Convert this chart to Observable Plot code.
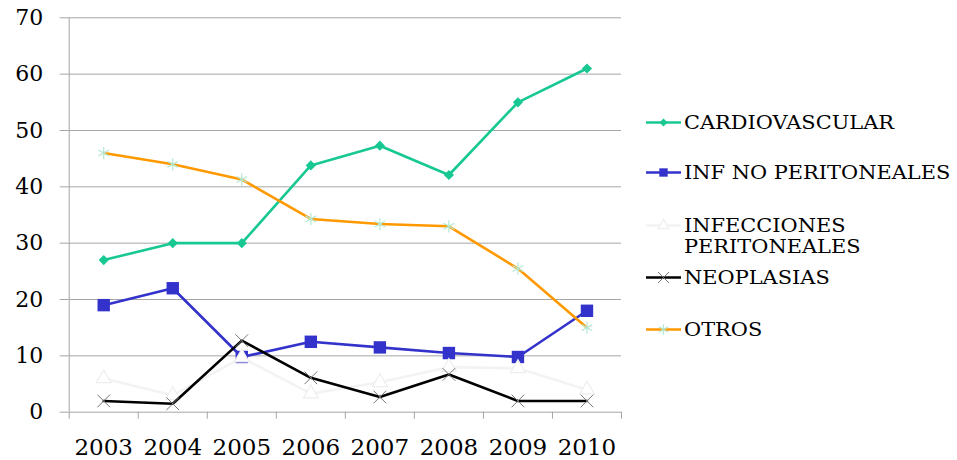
<!DOCTYPE html>
<html><head><meta charset="utf-8">
<script src="https://cdn.jsdelivr.net/npm/d3@7"></script>
<script src="https://cdn.jsdelivr.net/npm/@observablehq/plot@0.6"></script>
<style>
body{margin:0;background:#fff;}
#wrap{position:relative;width:957px;height:460px;font-family:"DejaVu Serif",serif;}
#wrap svg text{fill:#000;}
#legend{position:absolute;left:646px;top:0;}
.item{position:absolute;left:0;display:flex;align-items:flex-start;white-space:nowrap;}
.item svg{flex:none;}
.item span{font-size:19px;display:inline-block;line-height:21px;color:#000;margin-left:2px;transform:scaleX(1.1);transform-origin:0 50%;}
</style></head><body><div id="wrap"><div id="legend"></div></div>
<script>
const years = [2003, 2004, 2005, 2006, 2007, 2008, 2009, 2010];
const yTicks = [0, 10, 20, 30, 40, 50, 60, 70];
const cardiovascular = [27, 30, 30, 43.8, 47.3, 42.1, 55, 61];
const infNoPeritoneales = [19, 22, 9.8, 12.5, 11.5, 10.5, 9.8, 18];
const infeccionesPeritoneales = [6, 3, 9.7, 3.3, 5.3, 8, 7.8, 4];
const neoplasias = [2, 1.5, 12.7, 6.1, 2.7, 6.7, 2, 2];
const otros = [46, 44, 41.3, 34.3, 33.4, 33, 25.5, 15];
const seriesNames = ["CARDIOVASCULAR", "INF NO PERITONEALES", "INFECCIONES\nPERITONEALES", "NEOPLASIAS", "OTROS"];

const series = [
  {name: seriesNames[0], values: cardiovascular, line: "#18C893", symbol: "diamond2", r: 4.6, fill: "#18C893", stroke: "none", mstroke: 0, lsym: d3.symbolDiamond2, lsize: 40},
  {name: seriesNames[1], values: infNoPeritoneales, line: "#3333CC", symbol: "square", r: 7, fill: "#3333CC", stroke: "none", mstroke: 0, lsym: d3.symbolSquare, lsize: 70},
  {name: seriesNames[2], values: infeccionesPeritoneales, line: "#F3F3F3", symbol: "triangle", r: 5.5, fill: "#ffffff", stroke: "#EEEEEE", mstroke: 1.2, lsym: d3.symbolTriangle, lsize: 50},
  {name: seriesNames[3], values: neoplasias, line: "#000000", symbol: "times", r: 5.8, fill: "none", stroke: "#777777", mstroke: 1, lsym: d3.symbolTimes, lsize: 80},
  {name: seriesNames[4], values: otros, line: "#FF9900", symbol: "asterisk", r: 5.8, fill: "none", stroke: "#B2E8D2", mstroke: 1.2, lsym: d3.symbolAsterisk, lsize: 80}
];

const bounds = [...years.map(y => y - 0.5), years[years.length - 1] + 0.5];
const grey = "#A6A6A6";

const marks = [
  Plot.ruleY(yTicks, {stroke: grey, strokeWidth: 1}),
  Plot.ruleX([bounds[0]], {stroke: grey, strokeWidth: 1}),
  Plot.text(years, {x: d => d, y: 0, text: d => String(d), dy: 35, fontSize: 23, fill: "#000", fontFamily: "DejaVu Serif"})
];
for (const s of series) {
  marks.push(Plot.line(s.values, {x: years, y: s.values, stroke: s.line, strokeWidth: 2.6}));
  marks.push(Plot.dot(s.values, {x: years, y: s.values, symbol: () => s.symbol, r: s.r, fill: s.fill, stroke: s.stroke, strokeWidth: s.mstroke}));
}

const chart = Plot.plot({
  width: 957,
  height: 460,
  marginLeft: 68.7,
  marginRight: 336,
  marginTop: 17.3,
  marginBottom: 48.3,
  style: {fontFamily: "'DejaVu Serif', serif", fontSize: "22px", color: grey, background: "transparent"},
  x: {type: "linear", domain: [bounds[0], bounds[bounds.length - 1]], ticks: bounds, tickFormat: () => "", tickSize: 7, label: null},
  y: {domain: [0, 70], ticks: yTicks, tickSize: 9, tickPadding: 17, label: null},
  symbol: {type: "identity"},
  marks
});
document.getElementById("wrap").appendChild(chart);

// legend
const legendTops = [122, 172, 225, 277, 329];
const legend = document.getElementById("legend");
series.forEach((s, i) => {
  const item = document.createElement("div");
  item.className = "item";
  item.style.top = (legendTops[i] - 10.5) + "px";
  const svg = d3.create("svg").attr("width", 36).attr("height", 21);
  svg.append("line").attr("x1", 0).attr("x2", 35).attr("y1", 10.5).attr("y2", 10.5).attr("stroke", s.line).attr("stroke-width", 2.6);
  svg.append("path").attr("transform", "translate(17.5,10.5)").attr("d", d3.symbol(s.lsym, s.lsize)())
    .attr("fill", s.fill).attr("stroke", s.stroke).attr("stroke-width", s.mstroke);
  item.appendChild(svg.node());
  const span = document.createElement("span");
  span.innerHTML = s.name.replace("\n", "<br>");
  item.appendChild(span);
  legend.appendChild(item);
});
</script>
</body></html>
